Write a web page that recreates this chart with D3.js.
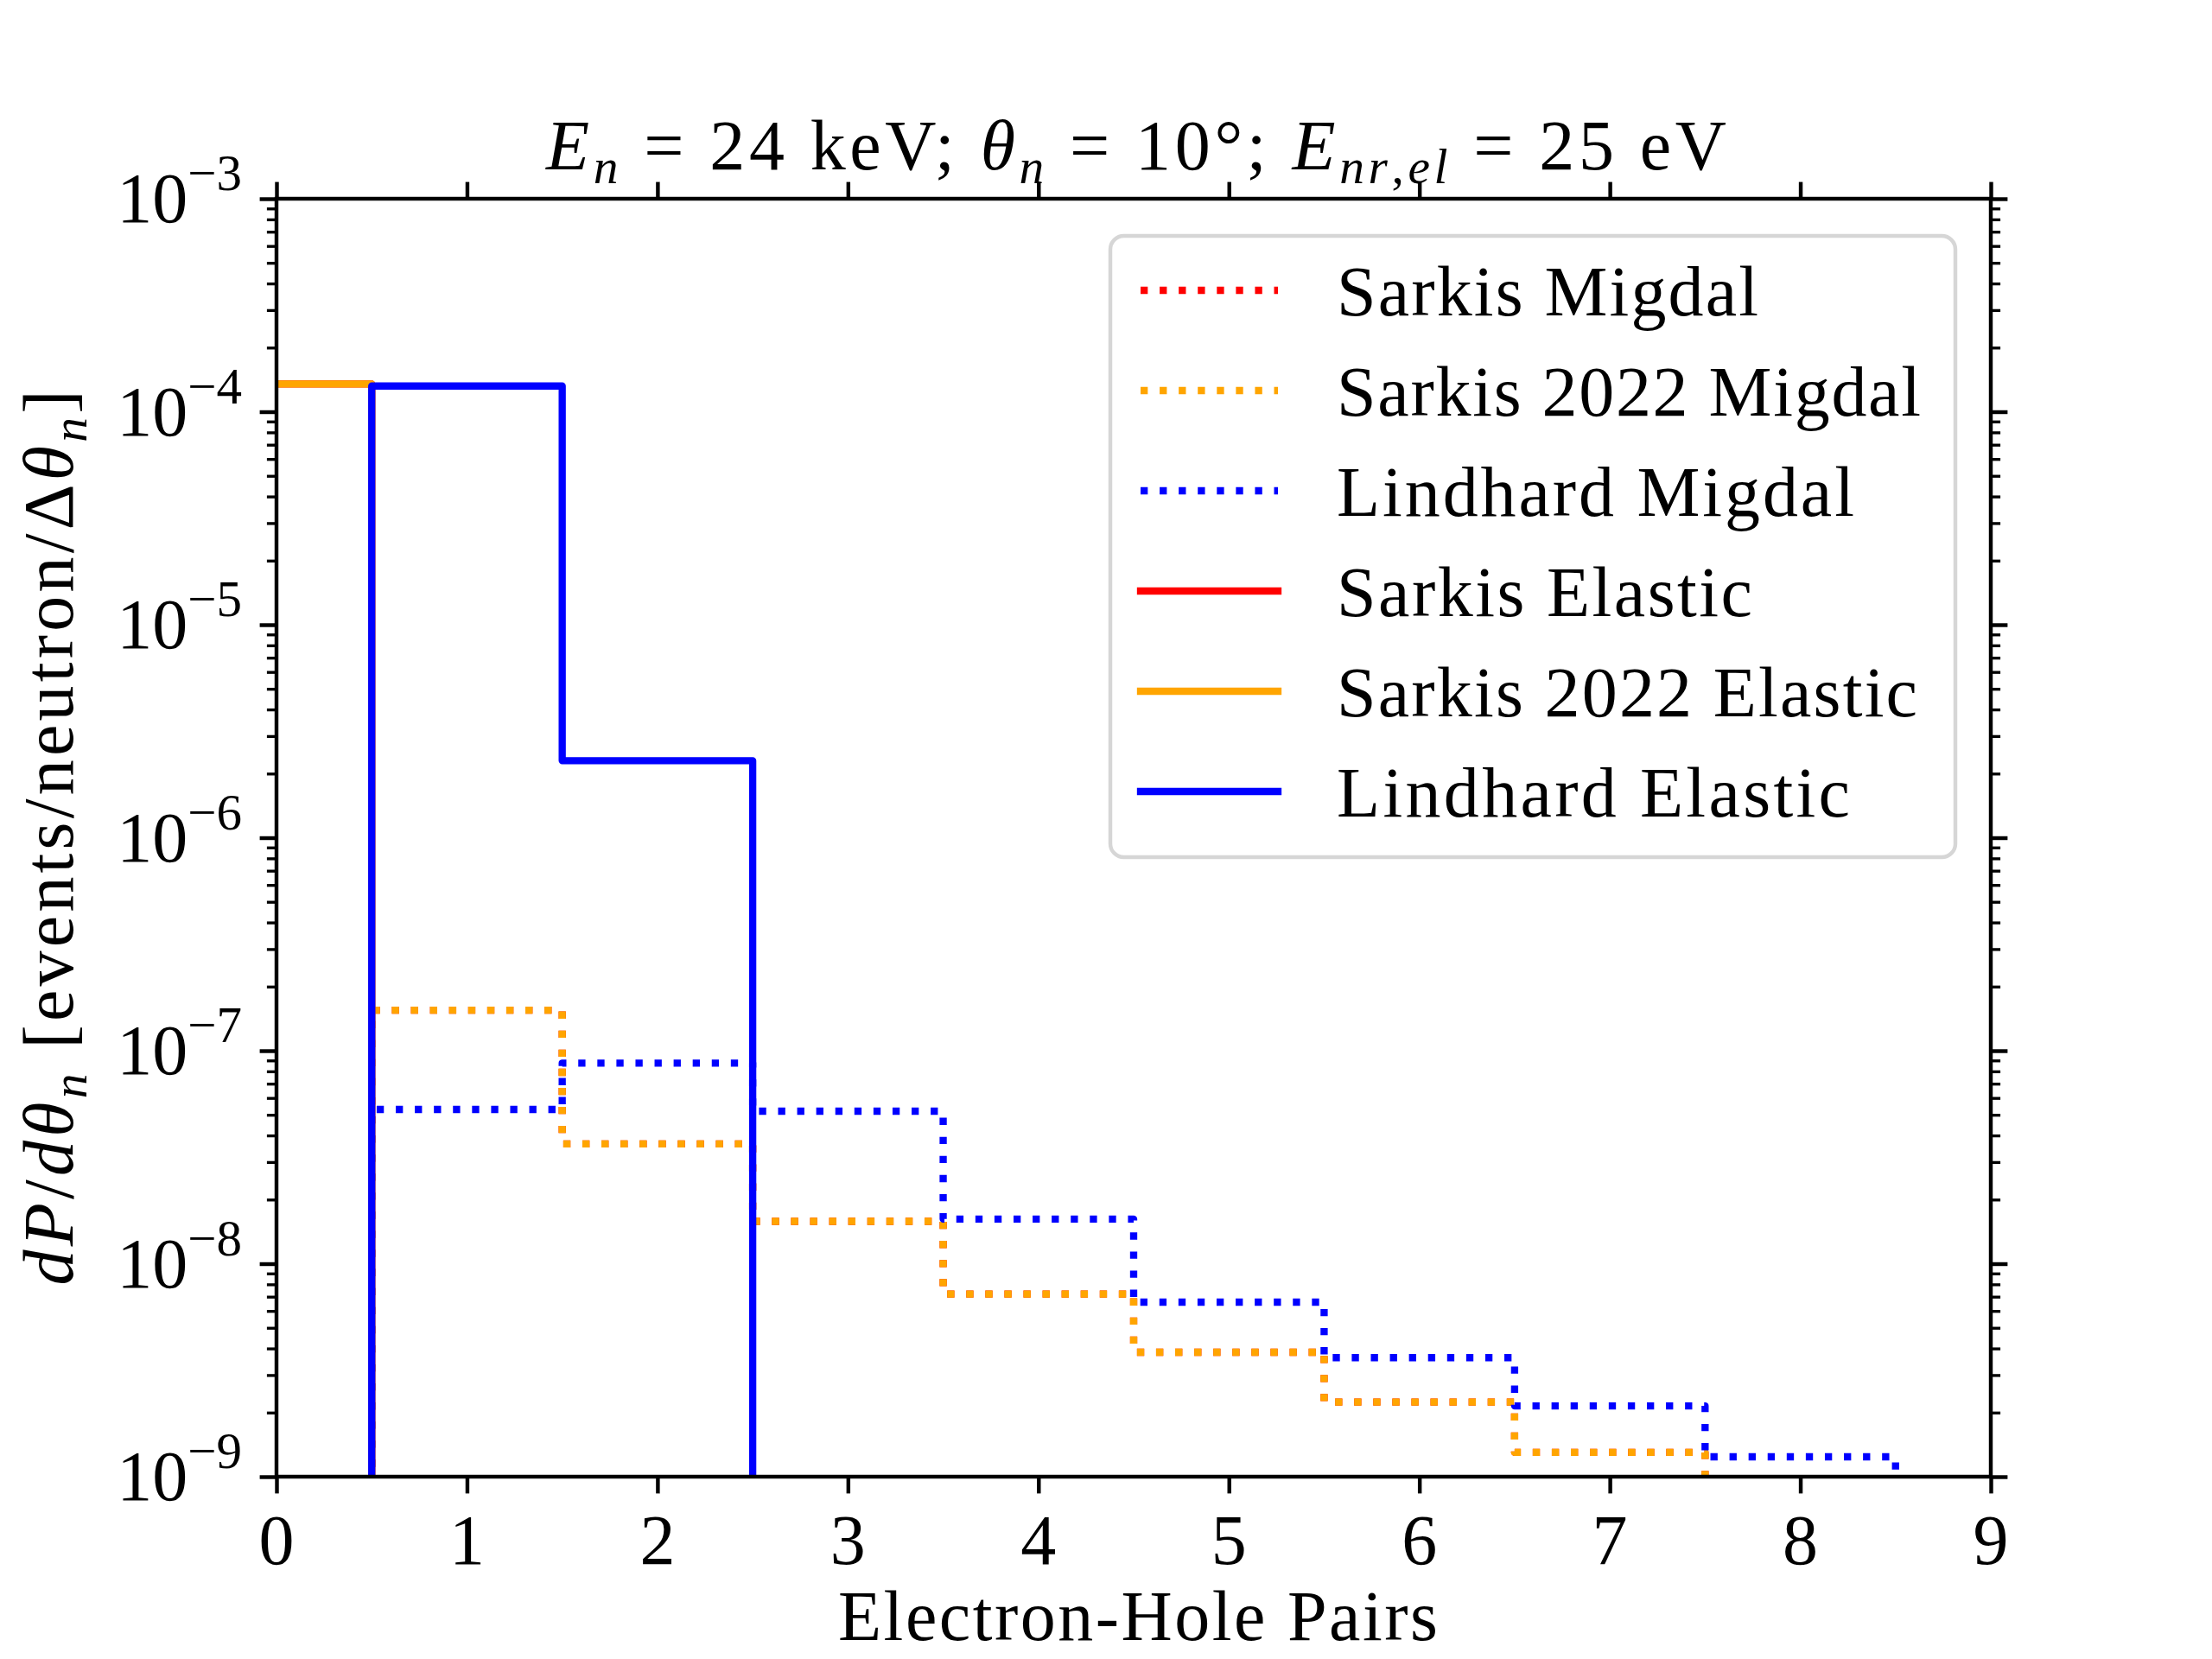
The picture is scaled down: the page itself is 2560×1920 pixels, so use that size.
<!DOCTYPE html>
<html>
<head>
<meta charset="utf-8">
<script src="https://cdn.jsdelivr.net/npm/d3@7.9.0/dist/d3.min.js"></script>
<style>
  html, body { margin: 0; padding: 0; background: #fff; }
  svg { display: block; }
  text { font-family: "Liberation Serif", "Times New Roman", serif; fill: #000; white-space: pre; }
</style>
</head>
<body>
<svg id="chart" width="2560" height="1920"></svg>
<script>
// ===== DATA =====
const binEdges = [-0.5, 0.5, 1.5, 2.5, 3.5, 4.5, 5.5, 6.5, 7.5, 8.5, 9.5];

const sarkisMigdal      = [0, 1.55e-7, 3.65e-8, 1.58e-8, 7.2e-9, 3.84e-9, 2.24e-9, 1.30e-9, 0, 0];
const sarkis2022Migdal  = [0, 1.55e-7, 3.65e-8, 1.58e-8, 7.2e-9, 3.84e-9, 2.24e-9, 1.30e-9, 0, 0];
const lindhardMigdal    = [0, 5.3e-8, 8.75e-8, 5.2e-8, 1.62e-8, 6.6e-9, 3.62e-9, 2.15e-9, 1.24e-9, 0];
const sarkisElastic     = [1.35e-4, 0, 0, 0, 0, 0, 0, 0, 0, 0];
const sarkis2022Elastic = [1.35e-4, 0, 0, 0, 0, 0, 0, 0, 0, 0];
const lindhardElastic   = [0, 1.32e-4, 2.3e-6, 0, 0, 0, 0, 0, 0, 0];

const seriesLabels = ['Sarkis Migdal', 'Sarkis 2022 Migdal', 'Lindhard Migdal',
                      'Sarkis Elastic', 'Sarkis 2022 Elastic', 'Lindhard Elastic'];
const seriesColors = ['#ff0000', '#ffa500', '#0000ff', '#ff0000', '#ffa500', '#0000ff'];
const seriesDotted = [true, true, true, false, false, false];
const seriesValues = [sarkisMigdal, sarkis2022Migdal, lindhardMigdal,
                      sarkisElastic, sarkis2022Elastic, lindhardElastic];

const xTicks = [0, 1, 2, 3, 4, 5, 6, 7, 8, 9];
const yExponents = [-9, -8, -7, -6, -5, -4, -3];

// ===== LAYOUT (matplotlib defaults at 400 dpi) =====
const W = 2560, H = 1920;
const axL = 320, axR = 2304, axT = 230, axB = 1709;
const FS = 82;                // base font size, ~14pt
const LW = 8.33;              // 1.5pt line width
const SPINE = 4.44;           // 0.8pt
const FLOOR = 1e-12;          // stand-in for empty bins on the log axis
// widths of the Computer Modern text in the original, used as textLength
const legendTextWidths = [488, 676, 599, 481, 672, 594];

const svg = d3.select('#chart');
svg.append('rect').attr('width', W).attr('height', H).attr('fill', '#fff');

const x = d3.scaleLinear().domain([0, 9]).range([axL, axR]);
const y = d3.scaleLog().domain([1e-9, 1e-3]).range([axB, axT]);

svg.append('clipPath').attr('id', 'plot-clip')
  .append('rect')
  .attr('x', axL).attr('y', axT)
  .attr('width', axR - axL).attr('height', axB - axT);

// histogram outline (histtype='step')
function stepPoints(vals) {
  const pts = [[binEdges[0], FLOOR]];
  vals.forEach((v, i) => {
    const vv = v > 0 ? v : FLOOR;
    pts.push([binEdges[i], vv], [binEdges[i + 1], vv]);
  });
  pts.push([binEdges[binEdges.length - 1], FLOOR]);
  return pts;
}

const line = d3.line().x(d => x(d[0])).y(d => y(d[1]));

function styleLine(sel, i) {
  sel.attr('fill', 'none')
    .attr('stroke', seriesColors[i])
    .attr('stroke-width', LW)
    .attr('stroke-linejoin', 'round');
  if (seriesDotted[i]) {
    sel.attr('stroke-dasharray', `${LW} ${LW * 1.65}`).attr('stroke-linecap', 'butt');
  } else {
    sel.attr('stroke-linecap', 'square');
  }
}

const plot = svg.append('g').attr('clip-path', 'url(#plot-clip)');
seriesValues.forEach((vals, i) => {
  plot.append('path').attr('d', line(stepPoints(vals))).call(styleLine, i);
});

// ===== AXES =====
const yMinor = [];
yExponents.slice(0, -1).forEach(e => {
  for (let m = 2; m <= 9; m++) yMinor.push(m * Math.pow(10, e));
});
const yMajor = yExponents.map(e => Math.pow(10, e));

function tickAxis(axis, transform, size, width) {
  const g = svg.append('g').attr('transform', transform)
    .call(axis.tickSize(size).tickSizeOuter(0).tickFormat(''));
  g.select('.domain').remove();
  g.selectAll('.tick line').attr('stroke', '#000').attr('stroke-width', width);
  return g;
}

tickAxis(d3.axisBottom(x).tickValues(xTicks), `translate(0,${axB})`, 19.4, SPINE);
tickAxis(d3.axisTop(x).tickValues(xTicks), `translate(0,${axT})`, 19.4, SPINE);
tickAxis(d3.axisLeft(y).tickValues(yMajor), `translate(${axL},0)`, 19.4, SPINE);
tickAxis(d3.axisRight(y).tickValues(yMajor), `translate(${axR},0)`, 19.4, SPINE);
tickAxis(d3.axisLeft(y).tickValues(yMinor), `translate(${axL},0)`, 11.1, 3.33);
tickAxis(d3.axisRight(y).tickValues(yMinor), `translate(${axR},0)`, 11.1, 3.33);

// spines
svg.append('rect')
  .attr('x', axL).attr('y', axT)
  .attr('width', axR - axL).attr('height', axB - axT)
  .attr('fill', 'none').attr('stroke', '#000').attr('stroke-width', SPINE);

// x tick labels
svg.append('g').selectAll('text').data(xTicks).join('text')
  .attr('x', d => x(d)).attr('y', axB + 101)
  .attr('text-anchor', 'middle').attr('font-size', FS)
  .text(d => d);

// y tick labels 10^k
svg.append('g').selectAll('text').data(yExponents).join('text')
  .attr('x', axL - 40).attr('y', d => y(Math.pow(10, d)) + 27)
  .attr('text-anchor', 'end').attr('font-size', FS)
  .each(function (d) {
    const t = d3.select(this);
    t.append('tspan').text('10');
    t.append('tspan').attr('dy', -37).attr('font-size', FS * 0.72).text('\u2212' + Math.abs(d));
  });

// rich text helper: italic / subscript parts
function rich(sel, parts, size) {
  let shift = 0;
  parts.forEach(p => {
    const ts = sel.append('tspan').text(p.t);
    const target = p.sub ? size * 0.2 : 0;
    ts.attr('dy', target - shift);
    shift = target;
    if (p.sub) ts.attr('font-size', size * 0.7);
    if (p.it) ts.attr('font-style', 'italic');
  });
  return sel;
}

const EQ = '\u2005=\u2005';

// title
rich(svg.append('text')
  .attr('x', 1315).attr('y', 196)
  .attr('text-anchor', 'middle').attr('font-size', FS)
  .attr('textLength', 1366),
  [{ t: 'E', it: 1 }, { t: 'n', it: 1, sub: 1 }, { t: EQ + '24 keV; ' },
   { t: '\u03b8', it: 1 }, { t: 'n', it: 1, sub: 1 }, { t: EQ + '10\u00b0; ' },
   { t: 'E', it: 1 }, { t: 'nr', it: 1, sub: 1 }, { t: ',', sub: 1 }, { t: 'el', it: 1, sub: 1 },
   { t: EQ + '25 eV' }], FS);

// x label
svg.append('text')
  .attr('x', 1317).attr('y', 1898)
  .attr('text-anchor', 'middle').attr('font-size', FS)
  .attr('textLength', 694)
  .text('Electron-Hole Pairs');

// y label
rich(svg.append('text')
  .attr('transform', `translate(84,${(axT + axB) / 2}) rotate(-90)`)
  .attr('text-anchor', 'middle').attr('font-size', FS)
  .attr('textLength', 1036),
  [{ t: 'dP', it: 1 }, { t: '/' }, { t: 'd\u03b8', it: 1 }, { t: 'n', it: 1, sub: 1 },
   { t: ' [events/neutron/\u0394' }, { t: '\u03b8', it: 1 }, { t: 'n', it: 1, sub: 1 }, { t: ']' }], FS);

// ===== LEGEND =====
const legend = svg.append('g');
legend.append('rect')
  .attr('x', 1285).attr('y', 273).attr('width', 978).attr('height', 719)
  .attr('rx', 15.6).attr('ry', 15.6)
  .attr('fill', '#fff').attr('fill-opacity', 0.8)
  .attr('stroke', '#cccccc').attr('stroke-opacity', 0.8).attr('stroke-width', SPINE);

const rowY = d3.scaleLinear().domain([0, 1]).range([336, 452]);
seriesLabels.forEach((label, i) => {
  const ly = rowY(i);
  legend.append('path')
    .attr('d', d3.line()([[1320, ly], [1479, ly]]))
    .call(styleLine, i);
  legend.append('text')
    .attr('x', 1547).attr('y', ly + 29)
    .attr('font-size', FS)
    .attr('textLength', legendTextWidths[i])
    .text(label);
});
</script>
</body>
</html>
